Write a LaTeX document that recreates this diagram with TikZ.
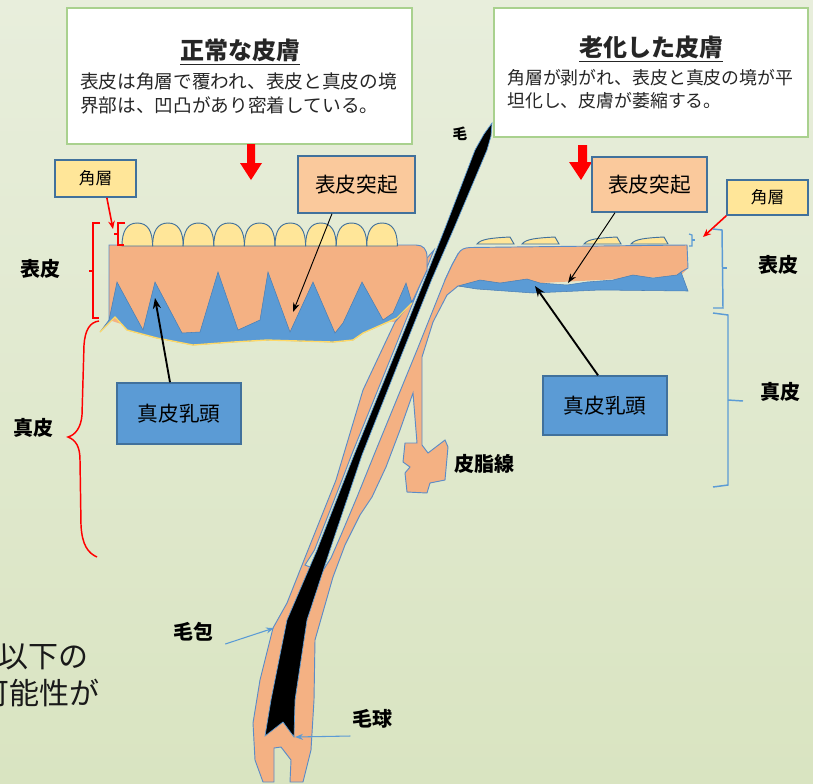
\documentclass[tikz,border=0pt]{standalone}
\usepackage{fontspec}
\setmainfont{Noto Sans CJK JP}
\usetikzlibrary{arrows.meta}
\definecolor{bgtop}{HTML}{E8EEDC}
\definecolor{bgbot}{HTML}{D9E4C1}
\definecolor{peach}{HTML}{F4B183}
\definecolor{lpeach}{HTML}{FAC99C}
\definecolor{pap}{HTML}{5B9BD5}
\definecolor{papedge}{HTML}{4A7FB5}
\definecolor{horn}{HTML}{FFE699}
\definecolor{edge}{HTML}{41719C}
\definecolor{fedge}{HTML}{5B8CC8}
\definecolor{boxgreen}{HTML}{A9D18E}
\definecolor{txt}{HTML}{262626}
\definecolor{yline}{HTML}{FFD966}
\tikzset{
  lbl/.style={font=\fontsize{15}{17}\selectfont\bfseries, text=black, inner sep=0pt},
  tagbox/.style={draw=edge, line width=1.1pt, inner sep=0pt, text=black, font=\fontsize{15.5}{18}\selectfont},
  mainbox/.style={draw=boxgreen, line width=1.4pt, fill=white, inner sep=0pt},
  titletext/.style={font=\fontsize{18}{20}\selectfont\bfseries, text=txt, inner sep=0pt},
  subtext/.style={font=\fontsize{14}{16}\selectfont, text=txt, inner sep=0pt, anchor=west},
  subtextr/.style={font=\fontsize{13.4}{16}\selectfont, text=txt, inner sep=0pt, anchor=west},
  calloutarr/.style={-{Stealth[length=7pt,width=5pt]}, line width=0.7pt, black},
  thickarr/.style={-{Stealth[length=8pt,width=6pt]}, line width=1.4pt, black},
  redarr/.style={-{Stealth[length=6pt,width=5pt]}, line width=1.2pt, red},
  bluearr/.style={-{Stealth[length=6pt,width=4.5pt]}, line width=0.8pt, pap},
  redbr/.style={draw=red, line width=1.1pt},
  bluebr/.style={draw=pap, line width=1.1pt},
  skinedge/.style={draw=fedge, line width=0.7pt},
  bump/.style={fill=horn, draw=edge, line width=0.7pt},
}
\begin{document}
\begin{tikzpicture}[x=0.75pt,y=-0.75pt]
\useasboundingbox (0,0) rectangle (813,783);
\shade[top color=bgtop,bottom color=bgbot] (0,0) rectangle (813,783);

% ---------- hair follicle (peach) ----------
\filldraw[fill=peach, skinedge] (427,258) -- (427,270) -- (413,300) -- (395,322) -- (363,390) -- (336,480)
  -- (308,550) -- (287,603) -- (273,628) -- (260,680) -- (253,723) -- (255,760) -- (263,782)
  -- (274,782) -- (274,748) -- (281,747) -- (291,760) -- (290,782) -- (303,782) -- (311,750)
  -- (314,700) -- (315,640) -- (333,577) -- (345,545) -- (360,515) -- (372,497) -- (386,467)
  -- (400,430) -- (413,393) -- (417,443) -- (405,443) -- (403,462) -- (410,467) -- (405,473)
  -- (407,492) -- (427,493) -- (430,483) -- (445,480) -- (448,447) -- (445,440) -- (428,453)
  -- (422,445) -- (422,357) -- (433,322) -- (447,295) -- (458,286) -- (464,262) -- (458,254)
  -- (452,265) -- (445,280) -- (417,350) -- (376,450) -- (357,497) -- (341,535) -- (331,558)
  -- (322,572) -- (305,565) -- (314.5,550) -- (342,480) -- (351.5,455) -- (394,350) -- (422,280)
  -- (434,250) -- cycle;

% ---------- left skin ----------
\fill[peach] (109,245) -- (416,245) .. controls (423,245) and (427,249) .. (427,257) -- (427,270)
  -- (413,300) -- (395,322) -- (383,321) -- (335,334) -- (290,333) -- (238,331) -- (182,333)
  -- (143,331) -- (109,320) -- cycle;
\draw[skinedge] (109,320) -- (109,245) -- (416,245) .. controls (423,245) and (427,249) .. (427,257)
  -- (427,270) -- (413,300) -- (395,322);
\filldraw[fill=pap, draw=papedge, line width=0.4pt] (100,332) -- (109,320) -- (117,282) -- (143,330)
  -- (155,282) -- (182,333) -- (200,332) -- (218,272) -- (238,330) -- (260,320) -- (268,272)
  -- (290,332) -- (313,282) -- (335,333) -- (343,323) -- (362,282) -- (383,320) -- (393,313)
  -- (406,283) -- (412,303) -- (397,318) -- (363,333) -- (353,340) -- (333,342) -- (267,340)
  -- (233,342) -- (193,345) -- (157,338) -- (127,330) -- (115,317) -- cycle;
\draw[yline, line width=1pt] (412,303) -- (397,318) -- (363,333) -- (353,340) -- (333,342) -- (267,340)
  -- (233,342) -- (193,345) -- (157,338) -- (127,330) -- (115,317) -- (100,332);
\foreach \i in {0,...,8}{
  \pgfmathsetmacro\xa{122+30.6*\i}
  \draw[bump] (\xa,246) .. controls (\xa,231) and (\xa+5,223) .. (\xa+15.3,223)
    .. controls (\xa+25.6,223) and (\xa+30.6,231) .. (\xa+30.6,246) -- cycle;
}

% ---------- right skin ----------
\fill[peach] (445,280) -- (452,265) -- (458,254) .. controls (461,249) and (464,248) .. (470,247.5)
  -- (687,245) -- (688,268) -- (680,276) -- (460,287) -- cycle;
\draw[skinedge] (445,280) -- (452,265) -- (458,254) .. controls (461,249) and (464,248) .. (470,247.5)
  -- (687,245) -- (688,268) -- (681,272);
\filldraw[fill=pap, draw=papedge, line width=0.4pt] (458,286) -- (480,280) -- (500,283) -- (527,279)
  -- (540,283) -- (567,285) -- (587,282) -- (613,280) -- (633,275) -- (653,278) -- (677,275)
  -- (681,272) -- (688,291) -- (600,290) -- (533,293) -- (477,289) -- cycle;
\foreach \xb in {477,522,584,631}{
  \draw[bump] (\xb,244) .. controls (\xb+4,239) and (\xb+14,238) .. (\xb+33,237)
    -- (\xb+37,244) -- cycle;
}

% ---------- hair shaft ----------
\filldraw[fill=black, draw=pap, line width=0.5pt] (492,123) -- (491,136) -- (487,150) -- (454.5,227)
  -- (431.5,280) -- (403.5,350) -- (362,455) -- (330,550) -- (307,620) -- (295,700) -- (294,737)
  -- (283,722) -- (265,736) -- (271,700) -- (287,620) -- (317,550) -- (354,455) -- (396.5,350)
  -- (424.5,280) -- (445.5,227) -- (475,150) -- (484,134) -- cycle;

% ---------- main boxes ----------
\node[mainbox, minimum width=258.75pt, minimum height=102pt] (boxL) at (239.5,76) {};
\node[titletext] (titleL) at (240,52) {\underline{正常な皮膚}};
\node[subtext] (subL1) at (80,81) {表皮は角層で覆われ、表皮と真皮の境};
\node[subtext] (subL2) at (80,105) {界部は、凹凸があり密着している。};

\node[mainbox, minimum width=235.5pt, minimum height=96.75pt] (boxR) at (651,72.5) {};
\node[titletext] (titleR) at (651,49) {\underline{老化した皮膚}};
\node[subtextr] (subR1) at (507,78) {角層が剥がれ、表皮と真皮の境が平};
\node[subtextr] (subR2) at (507,101) {坦化し、皮膚が萎縮する。};

% red block arrows
\fill[red] (247,144) -- (255,144) -- (255,163) -- (262,163) -- (251,180) -- (240,163) -- (247,163) -- cycle;
\fill[red] (578,145) -- (587,145) -- (587,162) -- (592,162) -- (581,180) -- (569,162) -- (578,162) -- cycle;

% ---------- tag boxes ----------
\node[tagbox, fill=horn, minimum width=60.75pt, minimum height=27.75pt, font=\fontsize{12.5}{14}\selectfont] (hornL) at (95.5,178.5) {角層};
\node[tagbox, fill=horn, minimum width=60.75pt, minimum height=26.25pt, font=\fontsize{12.5}{14}\selectfont] (hornR) at (767.5,197.5) {角層};
\node[tagbox, fill=lpeach, minimum width=87.75pt, minimum height=42.75pt] (ridgeL) at (356.5,184.5) {表皮突起};
\node[tagbox, fill=lpeach, minimum width=86.25pt, minimum height=41.25pt] (ridgeR) at (649.5,184.5) {表皮突起};
\node[tagbox, fill=pap, minimum width=93pt, minimum height=45.75pt] (papL) at (179,413.5) {真皮乳頭};
\node[tagbox, fill=pap, minimum width=93pt, minimum height=44.25pt] (papR) at (605,405.5) {真皮乳頭};

% targets
\coordinate (hornLt) at (113,229);
\coordinate (hornRt) at (703,237);
\coordinate (ridgeLt) at (293,312);
\coordinate (ridgeRt) at (568,283);
\coordinate (papLt) at (155,298);
\coordinate (papRt) at (535,286);
\coordinate (follt) at (274,628);
\coordinate (bulbt) at (295,737);

\draw[redarr] ([xshift=8.5pt]hornL.south) -- (hornLt);
\draw[redarr] (hornR.south west) -- (hornRt);
\draw[calloutarr] ([xshift=-18.4pt]ridgeL.south) -- (ridgeLt);
\draw[calloutarr] ([xshift=-25.9pt]ridgeR.south) -- (ridgeRt);
\draw[thickarr] ([xshift=-6.75pt]papL.north) -- (papLt);
\draw[thickarr] ([xshift=-5.25pt]papR.north) -- (papRt);

% tiny brackets for stratum corneum
\draw[redbr, line width=0.9pt] (125,223) -- (118,223) -- (118,245) -- (124,245);
\draw[redbr, line width=0.9pt] (118,234) -- (114,234);
\draw[bluebr, line width=0.9pt] (689,234) -- (692,235) -- (692,246) -- (689,246);
\draw[bluebr, line width=0.9pt] (692,240) -- (695,240);

% left braces (red)
\draw[redbr] (100,223) -- (93,223) -- (93,318) -- (99,318);
\draw[redbr] (93,271) -- (89,271);
\draw[redbr] (99,321) .. controls (90,322) and (85,330) .. (84,345) -- (82,415)
  .. controls (81,428) and (75,435) .. (68,437) .. controls (76,440) and (80,447) .. (80,460)
  -- (81,525) .. controls (82,545) and (88,553) .. (97,557);

% right braces (blue)
\draw[bluebr] (713,229) -- (722,230) -- (723,308) -- (713,308);
\draw[bluebr] (723,268) -- (727,268);
\draw[bluebr] (713,313) -- (728,315) -- (728,485) -- (713,487);
\draw[bluebr] (728,400) -- (743,401);

% ---------- labels ----------
\node[lbl] (epiL) at (40,269) {表皮};
\node[lbl] (derL) at (33,428) {真皮};
\node[lbl] (epiR) at (778,265) {表皮};
\node[lbl] (derR) at (780,392) {真皮};
\node[lbl] (seb) at (484,464) {皮脂線};
\node[lbl] (foll) at (193,632) {毛包};
\node[lbl] (bulb) at (372,719) {毛球};
\node[lbl, font=\fontsize{11}{12}\selectfont\bfseries] (hairlbl) at (460,134) {毛};

\draw[bluearr] ([xshift=9pt,yshift=-9pt]foll.east) -- (follt);
\draw[bluearr] ([xshift=-1pt,yshift=-12.75pt]bulb.west) -- (bulbt);

% ---------- bottom-left text ----------
\node[font=\fontsize{22.5}{26}\selectfont, text=black!90, inner sep=0pt, anchor=east] (bl1) at (89,657) {以下の};
\node[font=\fontsize{22.5}{26}\selectfont, text=black!90, inner sep=0pt, anchor=east] (bl2) at (100,693) {可能性が};
\end{tikzpicture}
\end{document}
